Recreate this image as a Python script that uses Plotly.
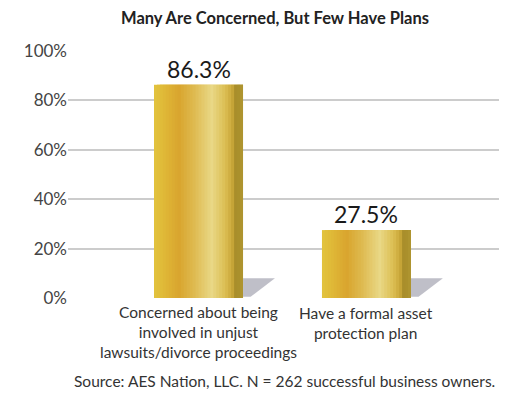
import plotly.graph_objects as go

title = "Many Are Concerned, But Few Have Plans"
categories = ["Concerned about being<br>involved in unjust<br>lawsuits/divorce proceedings",
              "Have a formal asset<br>protection plan"]
values = [86.3, 27.5]
value_labels = ["86.3%", "27.5%"]
y_ticks = [0, 20, 40, 60, 80, 100]
y_tick_labels = ["0%", "20%", "40%", "60%", "80%", "100%"]
source = "Source: AES Nation, LLC. N = 262 successful business owners."

# gradient stops across bar width (fraction, colour)
stops = [(0.0, (226, 196, 62)), (0.10, (224, 186, 56)), (0.28, (217, 165, 46)),
         (0.45, (222, 186, 80)), (0.65, (233, 216, 134)), (0.80, (220, 190, 82)),
         (0.88, (200, 166, 56)), (0.92, (166, 140, 42)), (1.0, (176, 150, 48))]

def interp(t):
    for (t0, c0), (t1, c1) in zip(stops[:-1], stops[1:]):
        if t0 <= t <= t1:
            f = (t - t0) / (t1 - t0) if t1 > t0 else 0
            return "rgb(%d,%d,%d)" % tuple(round(a + (b - a) * f) for a, b in zip(c0, c1))
    return "rgb(%d,%d,%d)" % stops[-1][1]

xs = list(range(len(values)))
bw = 0.53
n = 30
step = bw / n
fig = go.Figure()

# shadows
for i, v in zip(xs, values):
    r = i + bw / 2
    fig.add_trace(go.Scatter(x=[r, r + 0.19, r + 0.045, r, r], y=[8, 8, 0.5, 0.5, 8],
                             fill="toself", fillcolor="rgba(180,180,190,0.85)",
                             line=dict(width=0), mode="lines", hoverinfo="skip", showlegend=False))

for k in range(n):
    t = (k + 0.5) / n
    off = -bw / 2 + k * step
    w = min(3 * step, bw / 2 - off)
    fig.add_trace(go.Bar(x=xs, y=values, width=w, offset=off,
                         marker=dict(color=interp(t), line=dict(width=0)),
                         hoverinfo="skip", showlegend=False))

for i, v, lab in zip(xs, values, value_labels):
    fig.add_annotation(x=i, y=v, text=lab, showarrow=False, yanchor="bottom", yshift=0,
                       font=dict(family="Lato", size=23, color="#1a1a1a"))

for i, cat in zip(xs, categories):
    nl = len(cat.split("<br>"))
    fig.add_annotation(x=i, y=0, text=cat, showarrow=False, yanchor="middle",
                       yshift=-(17 + (nl - 1) * 8.35), borderpad=0,
                       font=dict(family="Lato", size=15.5, color="#333"))

fig.add_annotation(x=(275 - 68) / 431, xref="paper", y=1, yref="paper", yshift=33, yanchor="middle",
                   text="<b>" + title + "</b>", showarrow=False,
                   font=dict(family="Lato", size=16.5, color="#222"))
fig.add_annotation(x=(284 - 68) / 431, xref="paper", y=0, yref="paper", yshift=-83, yanchor="middle",
                   text=source, showarrow=False,
                   font=dict(family="Lato", size=15.5, color="#333"))

fig.update_layout(
    width=506, height=391, barmode="overlay",
    margin=dict(l=60, r=15, t=43, b=101),
    paper_bgcolor="white", plot_bgcolor="white",
    font=dict(family="Lato", color="#444"),
)
fig.update_xaxes(range=[-0.777, 1.789], tickvals=xs, showticklabels=False, showgrid=False,
                 zeroline=False, showline=False, ticks="")
fig.update_yaxes(range=[0, 100], tickvals=y_ticks, ticktext=y_tick_labels, showgrid=True,
                 gridcolor="#cccccc", gridwidth=1.5, zeroline=False, showline=False, ticks="",
                 tickfont=dict(family="Lato", size=17, color="#444"))
fig.write_html("out.html")
